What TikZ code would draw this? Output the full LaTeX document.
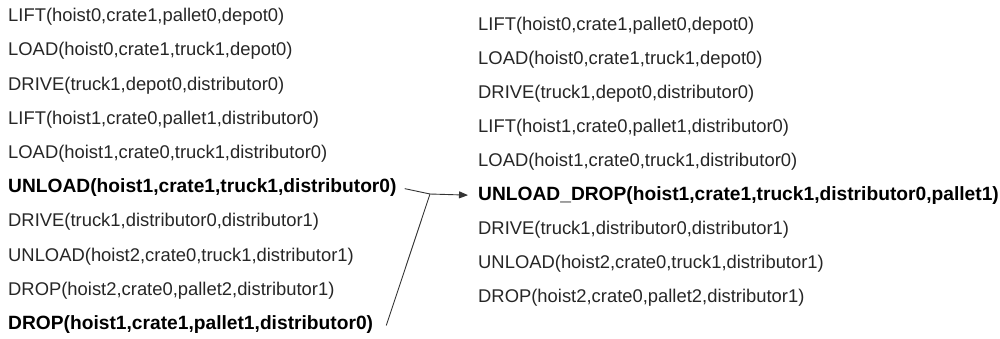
\documentclass[tikz,border=0pt]{standalone}
\usepackage{fontspec}
\setmainfont{Liberation Sans}
\usetikzlibrary{arrows.meta}
\begin{document}
\begin{tikzpicture}[x=1pt,y=-1pt,
  act/.style={anchor=base west,inner sep=0pt,text=black!85,
    font=\fontsize{18.4}{20}\selectfont},
  keyact/.style={act,text=black,font=\fontsize{19.2}{20}\selectfont\bfseries},
  link/.style={draw=black!80,line width=0.9pt}]
\useasboundingbox (0,0) rectangle (1000,338);
% original plan (left column)
\node[act]    (a1)  at (8,  21.6) {LIFT(hoist0,crate1,pallet0,depot0)};
\node[act]    (a2)  at (8,  55.8) {LOAD(hoist0,crate1,truck1,depot0)};
\node[act]    (a3)  at (8,  90.0) {DRIVE(truck1,depot0,distributor0)};
\node[act]    (a4)  at (8, 124.2) {LIFT(hoist1,crate0,pallet1,distributor0)};
\node[act]    (a5)  at (8, 158.4) {LOAD(hoist1,crate0,truck1,distributor0)};
\node[keyact] (a6)  at (8, 192.6) {UNLOAD(hoist1,crate1,truck1,distributor0)};
\node[act]    (a7)  at (8, 226.8) {DRIVE(truck1,distributor0,distributor1)};
\node[act]    (a8)  at (8, 261.0) {UNLOAD(hoist2,crate0,truck1,distributor1)};
\node[act]    (a9)  at (8, 295.2) {DROP(hoist2,crate0,pallet2,distributor1)};
\node[keyact] (a10) at (8, 329.4) {DROP(hoist1,crate1,pallet1,distributor0)};
% merged plan (right column)
\node[act]    (b1)  at (478,  30.6) {LIFT(hoist0,crate1,pallet0,depot0)};
\node[act]    (b2)  at (478,  64.6) {LOAD(hoist0,crate1,truck1,depot0)};
\node[act]    (b3)  at (478,  98.6) {DRIVE(truck1,depot0,distributor0)};
\node[act]    (b4)  at (478, 132.6) {LIFT(hoist1,crate0,pallet1,distributor0)};
\node[act]    (b5)  at (478, 166.6) {LOAD(hoist1,crate0,truck1,distributor0)};
\node[keyact] (b6)  at (478, 200.6) {UNLOAD\_DROP(hoist1,crate1,truck1,distributor0,pallet1)};
\node[act]    (b7)  at (478, 234.6) {DRIVE(truck1,distributor0,distributor1)};
\node[act]    (b8)  at (478, 268.6) {UNLOAD(hoist2,crate0,truck1,distributor1)};
\node[act]    (b9)  at (478, 302.6) {DROP(hoist2,crate0,pallet2,distributor1)};
% merge connector
\coordinate (j) at (430,194);
\draw[link] ([xshift=8pt,yshift=-1pt]a6.east) -- (j);
\draw[link] ([xshift=13pt,yshift=-1pt]a10.east) -- (j);
\draw[link,-{Triangle[length=9pt,width=7pt]}] (j) -- ([xshift=-10pt,yshift=0.5pt]b6.west);
\end{tikzpicture}
\end{document}
